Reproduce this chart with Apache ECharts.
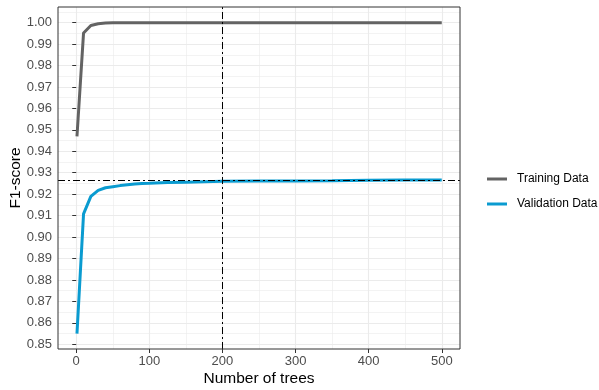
<!DOCTYPE html>
<html>
<head>
<meta charset="utf-8">
<script src="https://cdn.jsdelivr.net/npm/echarts@6/dist/echarts.min.js"></script>
<style>
html,body{margin:0;padding:0;background:#fff;}
#c{width:599px;height:390px;}
</style>
</head>
<body>
<div id="c"></div>
<script>
const trees = [1, 10, 20, 30, 40, 50, 60, 70, 80, 90, 100, 125, 150, 175, 200, 250, 300, 350, 400, 450, 500];
const trainingF1 = [0.947, 0.9952, 0.9987, 0.9995, 0.9998, 0.9999, 1.0, 1.0, 1.0, 1.0, 1.0, 1.0, 1.0, 1.0, 1.0, 1.0, 1.0, 1.0, 1.0, 1.0, 1.0];
const validationF1 = [0.855, 0.9108, 0.919, 0.9218, 0.9230, 0.9235, 0.9240, 0.9244, 0.9248, 0.9250, 0.9251, 0.9254, 0.9256, 0.9258, 0.9260, 0.9261, 0.9262, 0.9263, 0.9265, 0.9266, 0.9266];
const xTicks = [0, 100, 200, 300, 400, 500];
const xMinor = [50, 150, 250, 350, 450];
const yTicks = [0.85, 0.86, 0.87, 0.88, 0.89, 0.90, 0.91, 0.92, 0.93, 0.94, 0.95, 0.96, 0.97, 0.98, 0.99, 1.00];
const yMinor = [0.855, 0.865, 0.875, 0.885, 0.895, 0.905, 0.915, 0.925, 0.935, 0.945, 0.955, 0.965, 0.975, 0.985, 0.995, 1.005];
const bestTrees = 200;
const bestF1 = 0.9267;

const font = 'Liberation Sans, Arial, sans-serif';
const chart = echarts.init(document.getElementById('c'), null, {renderer: 'canvas'});

const gridLines = [];
xMinor.forEach(v => gridLines.push({xAxis: v, lineStyle: {color: '#EBEBEB', width: 0.6, type: 'solid'}}));
yMinor.forEach(v => gridLines.push({yAxis: v, lineStyle: {color: '#EBEBEB', width: 0.6, type: 'solid'}}));
xTicks.forEach(v => gridLines.push({xAxis: v, lineStyle: {color: '#EBEBEB', width: 1.1, type: 'solid'}}));
yTicks.forEach(v => gridLines.push({yAxis: v, lineStyle: {color: '#EBEBEB', width: 1.1, type: 'solid'}}));

chart.setOption({
  animation: false,
  backgroundColor: '#fff',
  grid: {left: 58, top: 7, width: 402, height: 342, show: true, borderColor: '#333333', borderWidth: 1,
         backgroundColor: 'transparent', z: 10, containLabel: false, outerBoundsMode: 'none'},
  legend: {
    orient: 'vertical', left: 487, top: 172, padding: 0,
    itemWidth: 20, itemHeight: 3, itemGap: 11, icon: 'rect',
    textStyle: {fontFamily: font, fontSize: 12, color: '#000', padding: [0, 0, 0, 5], lineHeight: 14},
    data: ['Training Data', 'Validation Data']
  },
  xAxis: {
    type: 'value', min: -24.95, max: 524.95,
    name: 'Number of trees', nameLocation: 'middle', nameGap: 21.5, nameMoveOverlap: false,
    nameTextStyle: {fontFamily: font, fontSize: 15.5, color: '#000'},
    axisLine: {show: false},
    axisTick: {show: true, customValues: xTicks, length: 4, lineStyle: {color: '#333333', width: 1}},
    axisLabel: {customValues: xTicks, margin: 6, fontFamily: font, fontSize: 13, color: '#4D4D4D'},
    splitLine: {show: false}
  },
  yAxis: {
    type: 'value', min: 0.8478, max: 1.0073,
    name: 'F1-score', nameLocation: 'middle', nameGap: 34, nameMoveOverlap: false,
    nameTextStyle: {fontFamily: font, fontSize: 15.5, color: '#000'},
    axisLine: {show: false},
    axisTick: {show: true, customValues: yTicks, length: 4, lineStyle: {color: '#333333', width: 1}},
    axisLabel: {customValues: yTicks, margin: 6, fontFamily: font, fontSize: 13, color: '#4D4D4D', formatter: v => v.toFixed(2)},
    splitLine: {show: false}
  },
  series: [
    {
      name: 'grid', type: 'line', data: [], z: 0, silent: true,
      markLine: {silent: true, z: 0, precision: 5, symbol: 'none', label: {show: false}, animation: false, data: gridLines}
    },
    {
      name: 'Training Data', type: 'line', z: 3,
      data: trees.map((t, i) => [t, trainingF1[i]]),
      showSymbol: false, symbol: 'none', smooth: false,
      lineStyle: {color: '#636363', width: 3}, itemStyle: {color: '#636363'}
    },
    {
      name: 'Validation Data', type: 'line', z: 3,
      data: trees.map((t, i) => [t, validationF1[i]]),
      showSymbol: false, symbol: 'none', smooth: false,
      lineStyle: {color: '#0A9BD0', width: 3}, itemStyle: {color: '#0A9BD0'}
    },
    {
      name: 'ref', type: 'line', data: [], z: 6, silent: true,
      markLine: {silent: true, z: 6, precision: 5, symbol: 'none', label: {show: false}, animation: false,
        lineStyle: {color: '#000', width: 1, type: [7, 3, 2, 3]},
        data: [{xAxis: bestTrees}, {yAxis: bestF1}]}
    }
  ]
});
</script>
</body>
</html>
